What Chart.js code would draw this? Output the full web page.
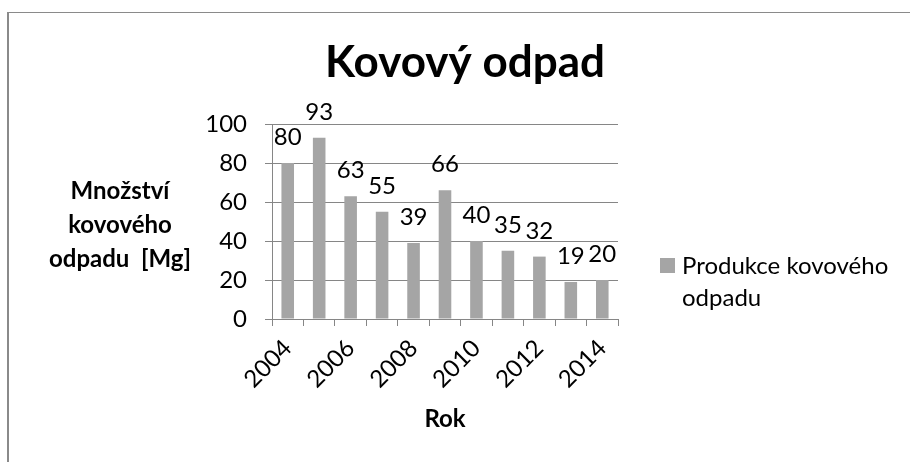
<!DOCTYPE html>
<html>
<head>
<meta charset="utf-8">
<script src="https://cdn.jsdelivr.net/npm/chart.js@4"></script>
<style>
    html, body { margin: 0; padding: 0; background: #fff; }
    #wrap { position: relative; width: 910px; height: 462px; overflow: hidden; }
    #frame {
        position: absolute; left: 7px; top: 12px; width: 1000px; height: 1000px;
        border-left: 2px solid #8a8a8a; border-top: 1px solid #8a8a8a;
    }
    canvas { position: absolute; left: 0; top: 0; }
</style>
</head>
<body>
<div id="wrap">
    <div id="frame"></div>
    <canvas id="wasteChart" width="910" height="462"></canvas>
</div>
<script>
// Data
const years = ['2004', '2005', '2006', '2007', '2008', '2009', '2010', '2011', '2012', '2013', '2014'];
const production = [80, 93, 63, 55, 39, 66, 40, 35, 32, 19, 20];
const seriesName = ['Produkce kovového', 'odpadu'];
const yTitleLines = ['Množství', 'kovového', 'odpadu  [Mg]'];
const chartTitle = 'Kovový odpad';

const FONT = 'Lato';
const BAR_GRAY = '#a5a5a5';
const AXIS_GRAY = '#868686';

// Title, value labels, horizontal y title and legend drawn on the canvas
const extras = {
    id: 'extras',
    afterDatasetsDraw(chart) {
        const ctx = chart.ctx;
        const meta = chart.getDatasetMeta(0);
        ctx.save();
        ctx.fillStyle = '#000';
        ctx.textAlign = 'center';
        ctx.textBaseline = 'alphabetic';

        // chart title
        ctx.font = `bold 44px ${FONT}`;
        ctx.fillText(chartTitle, 465, 77);

        // data labels above bars
        ctx.font = `24px ${FONT}`;
        meta.data.forEach((bar, i) => {
            ctx.fillText(String(production[i]), bar.x, bar.y - 18);
        });

        // y axis title, horizontal
        ctx.font = `bold 24px ${FONT}`;
        yTitleLines.forEach((line, i) => {
            ctx.fillText(line, 120, 199 + i * 34);
        });

        // legend
        ctx.fillStyle = BAR_GRAY;
        ctx.fillRect(660, 258, 15, 15);
        ctx.fillStyle = '#000';
        ctx.textAlign = 'left';
        ctx.font = `24px ${FONT}`;
        seriesName.forEach((line, i) => {
            ctx.fillText(line, 682, 274 + i * 32);
        });
        ctx.restore();
    }
};

const ctx = document.getElementById('wasteChart').getContext('2d');

new Chart(ctx, {
    type: 'bar',
    data: {
        labels: years,
        datasets: [{
            label: seriesName.join(' '),
            data: production,
            backgroundColor: BAR_GRAY,
            borderWidth: 0,
            barPercentage: 0.4,
            categoryPercentage: 1.0
        }]
    },
    options: {
        responsive: false,
        animation: false,
        events: [],
        layout: {
            padding: { left: 182, right: 292, top: 124, bottom: 28 }
        },
        plugins: {
            legend: { display: false },
            tooltip: { enabled: false },
            title: { display: false }
        },
        scales: {
            x: {
                offset: true,
                afterFit(scale) { scale.height = 115; },
                grid: {
                    offset: true,
                    drawOnChartArea: false,
                    drawTicks: true,
                    tickLength: 7,
                    color: AXIS_GRAY
                },
                border: { color: AXIS_GRAY, width: 1 },
                ticks: {
                    autoSkip: false,
                    minRotation: 45,
                    maxRotation: 45,
                    padding: 8,
                    color: '#000',
                    font: { family: FONT, size: 24 },
                    callback: function(value, index) {
                        return index % 2 === 0 ? years[index] : '';
                    }
                },
                title: {
                    display: true,
                    text: 'Rok',
                    color: '#000',
                    font: { family: FONT, size: 24, weight: 'bold' },
                    padding: 0
                }
            },
            y: {
                min: 0,
                max: 100,
                afterFit(scale) { scale.width = 90; },
                grid: {
                    color: AXIS_GRAY,
                    tickLength: 7
                },
                border: { color: AXIS_GRAY, width: 1 },
                ticks: {
                    stepSize: 20,
                    padding: 18,
                    color: '#000',
                    font: { family: FONT, size: 24 }
                }
            }
        }
    },
    plugins: [extras]
});
</script>
</body>
</html>
